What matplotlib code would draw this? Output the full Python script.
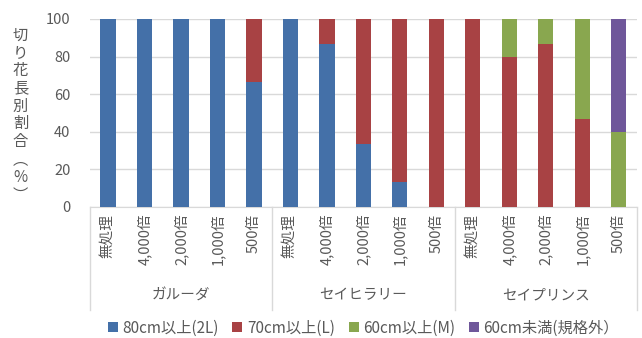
import numpy as np
import matplotlib
matplotlib.use("Agg")
import matplotlib.pyplot as plt
import matplotlib.transforms as mtransforms

plt.rcParams['font.family'] = ['Noto Sans CJK JP', 'DejaVu Sans']

# data
varieties = ['ガルーダ', 'セイヒラリー', 'セイプリンス']
treatments = ['無処理', '4,000倍', '2,000倍', '1,000倍', '500倍']
series_names = ['80cm以上(2L)', '70cm以上(L)', '60cm以上(M)', '60cm未満(規格外）']
s_2L = [100, 100, 100, 100, 66.7, 100, 86.7, 33.3, 13.3, 0, 0, 0, 0, 0, 0]
s_L = [0, 0, 0, 0, 33.3, 0, 13.3, 66.7, 86.7, 100, 100, 80, 86.7, 46.7, 0]
s_M = [0, 0, 0, 0, 0, 0, 0, 0, 0, 0, 0, 20, 13.3, 53.3, 40]
s_out = [0, 0, 0, 0, 0, 0, 0, 0, 0, 0, 0, 0, 0, 0, 60]
colors = ['#4470A8', '#A84244', '#89A74F', '#6F579A']

txt = '#595959'
fig = plt.figure(figsize=(6.42, 3.38), dpi=100)
ax = fig.add_axes([0.140, 0.388, 0.852, 0.556])

x = np.arange(len(s_2L))
bottom = np.zeros(len(x))
for vals, name, c in zip([s_2L, s_L, s_M, s_out], series_names, colors):
    ax.bar(x, vals, 0.42, bottom=bottom, color=c, label=name, zorder=3)
    bottom += np.array(vals)

ax.set_xlim(-0.5, len(x) - 0.5)
ax.set_ylim(0, 100)
ax.set_yticks(range(0, 101, 20))
ax.yaxis.grid(True, color='#D9D9D9', lw=1, zorder=0)
for s in ['top', 'right', 'left']:
    ax.spines[s].set_visible(False)
ax.spines['bottom'].set_color('#D9D9D9')
ax.tick_params(axis='y', length=0, pad=14, labelsize=10.5, labelcolor=txt)
ax.tick_params(axis='x', length=0, pad=5, labelsize=10.5, labelcolor=txt)
ax.set_xticks(x)
ax.set_xticklabels(treatments * len(varieties), rotation=90, va='top')

# group labels and separators
trans = mtransforms.blended_transform_factory(ax.transData, ax.transAxes)
n = len(treatments)
for i, v in enumerate(varieties):
    ax.text(i * n + (n - 1) / 2, -0.47, v, transform=trans, ha='center', va='center',
            fontsize=10.5, color=txt)
for i in range(len(varieties) + 1):
    ax.plot([i * n - 0.5] * 2, [0, -0.55], transform=trans, color='#D9D9D9',
            lw=1, clip_on=False)

# y label, stacked vertically
ylab = '切り花長別割合︵%︶'
fig.text(0.032, 0.66, '\n'.join(ylab), ha='center', va='center', fontsize=11,
         color=txt, linespacing=1.06)

ax.legend(loc='center', bbox_to_anchor=(0.5, -0.645), ncol=4, frameon=False,
          fontsize=11, handlelength=0.65, handleheight=0.65, handletextpad=0.3,
          columnspacing=0.9, labelcolor=txt)

fig.savefig('out.png', dpi=100)
